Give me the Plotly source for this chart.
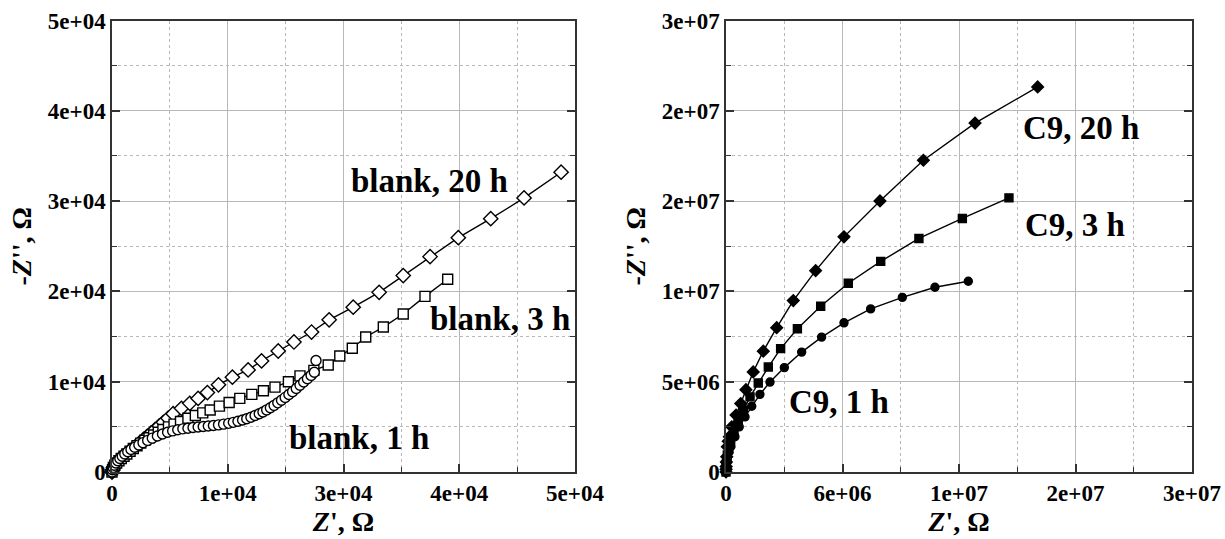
import plotly.graph_objects as go

# ---------------- data: left panel (blank) ----------------
blank20_x = [0, 60, 150, 300, 500, 750, 1000, 1300, 1600, 1900, 2250, 2600, 3000, 3400, 3800, 4200,
             4650, 5100, 5550, 6050, 6600, 7500, 8400, 9300, 10300, 11500, 13000, 14700, 16150, 17950,
             19650, 21550, 23450, 26050, 28850, 31450, 34350, 37400, 40900, 44500, 48500]
blank20_y = [0, 250, 500, 750, 1000, 1250, 1500, 1750, 2000, 2300, 2600, 2900, 3250, 3600, 3950, 4300,
             4700, 5100, 5500, 5950, 6450, 7050, 7600, 8150, 8800, 9650, 10500, 11300, 12300, 13400,
             14400, 15500, 16850, 18250, 19900, 21750, 23850, 25950, 28050, 30350, 33200]

blank3_x = [0, 60, 150, 300, 500, 750, 1000, 1300, 1600, 1950, 2300, 2700, 3100, 3550, 4000, 4500,
            5000, 5500, 6100, 6700, 7400, 8200, 9000, 9800, 10600, 11600, 12650, 13800, 15100, 16350,
            17600, 19050, 20300, 21800, 23350, 24600, 25950, 27400, 29300, 31450, 33800, 36250]
blank3_y = [0, 250, 500, 750, 1000, 1250, 1500, 1750, 2000, 2300, 2600, 2900, 3200, 3500, 3800, 4100,
            4400, 4700, 5000, 5300, 5600, 5950, 6250, 6550, 6870, 7300, 7700, 8150, 8600, 9000,
            9400, 10000, 10650, 11250, 11850, 12850, 13700, 14950, 16050, 17500, 19450, 21350]

blank1_x = [0, 50, 130, 250, 420, 620, 850, 1100, 1380, 1700, 2050, 2450, 2900, 3350, 3850, 4350,
            4900, 5450, 6000, 6550, 7100, 7650, 8200, 8750, 9300, 9850, 10400, 10950, 11500, 12050,
            12600, 13100, 13600, 14100, 14550, 15000, 15450, 15900, 16300, 16700, 17100, 17500, 17900,
            18300, 18700, 19100, 19500, 19900, 20300, 20700, 21100, 21500, 21850]
blank1_y = [0, 250, 500, 750, 1000, 1250, 1500, 1750, 2000, 2250, 2500, 2750, 3000, 3250, 3500, 3750,
            3980, 4200, 4400, 4550, 4680, 4780, 4850, 4920, 4980, 5040, 5090, 5150, 5220, 5300,
            5390, 5500, 5620, 5760, 5900, 6060, 6250, 6450, 6650, 6880, 7120, 7380, 7660,
            7950, 8260, 8580, 8900, 9250, 9600, 9960, 10320, 10700, 11050]
blank1_extra_x = [22030]
blank1_extra_y = [12340]

# ---------------- data: right panel (C9) ----------------
c9_20_x = [0, 0.005e6, 0.01e6, 0.02e6, 0.04e6, 0.07e6, 0.12e6, 0.18e6, 0.31e6, 0.54e6, 0.79e6, 1.07e6,
           1.46e6, 2.0e6, 2.72e6, 3.61e6, 4.81e6, 6.33e6, 8.26e6, 10.59e6, 13.36e6, 16.72e6]
c9_20_y = [0, 0.15e6, 0.3e6, 0.55e6, 0.85e6, 1.4e6, 1.7e6, 1.95e6, 2.5e6, 3.15e6, 3.79e6, 4.56e6,
           5.54e6, 6.69e6, 7.99e6, 9.49e6, 11.15e6, 13.02e6, 15.01e6, 17.26e6, 19.32e6, 21.32e6]

c9_3_x = [0, 0.005e6, 0.01e6, 0.02e6, 0.04e6, 0.07e6, 0.15e6, 0.25e6, 0.43e6, 0.66e6, 0.93e6, 1.29e6,
          1.73e6, 2.27e6, 2.93e6, 3.83e6, 5.08e6, 6.56e6, 8.30e6, 10.35e6, 12.68e6, 15.18e6]
c9_3_y = [0, 0.12e6, 0.25e6, 0.45e6, 0.7e6, 0.94e6, 1.25e6, 1.58e6, 2.13e6, 2.78e6, 3.42e6, 4.16e6,
          4.93e6, 5.81e6, 6.83e6, 7.93e6, 9.18e6, 10.45e6, 11.66e6, 12.93e6, 14.04e6, 15.18e6]

c9_1_x = [0, 0.005e6, 0.01e6, 0.02e6, 0.04e6, 0.07e6, 0.15e6, 0.25e6, 0.48e6, 0.71e6, 1.02e6, 1.38e6,
          1.82e6, 2.36e6, 3.13e6, 4.06e6, 5.13e6, 6.33e6, 7.76e6, 9.46e6, 11.21e6, 13.0e6]
c9_1_y = [0, 0.1e6, 0.2e6, 0.4e6, 0.6e6, 0.84e6, 1.1e6, 1.4e6, 1.95e6, 2.5e6, 3.05e6, 3.64e6,
          4.30e6, 4.98e6, 5.78e6, 6.64e6, 7.47e6, 8.26e6, 9.03e6, 9.67e6, 10.23e6, 10.56e6]

# tick labels (as printed on the original chart)
left_x_tickvals = [0, 12500, 25000, 37500, 50000]
left_x_ticktext = ["0", "1e+04", "3e+04", "4e+04", "5e+04"]
left_y_tickvals = [0, 10000, 20000, 30000, 40000, 50000]
left_y_ticktext = ["0", "1e+04", "2e+04", "3e+04", "4e+04", "5e+04"]
right_x_tickvals = [0, 6.25e6, 12.5e6, 18.75e6, 25e6]
right_x_ticktext = ["0", "6e+06", "1e+07", "2e+07", "3e+07"]
right_y_tickvals = [0, 5e6, 10e6, 15e6, 20e6, 25e6]
right_y_ticktext = ["0", "5e+06", "1e+07", "2e+07", "2e+07", "3e+07"]

left_labels = ["blank, 20 h", "blank, 3 h", "blank, 1 h"]
left_label_x = [34236, 41904, 26676]
left_label_y = [32260, 16962, 3769]
right_labels = ["C9, 20 h", "C9, 3 h", "C9, 1 h"]
right_label_x = [19.04e6, 18.72e6, 6.06e6]
right_label_y = [19.04e6, 13.69e6, 3.86e6]

# ---------------- figure ----------------
FONT = "Liberation Serif"
W, H = 1225, 539
fig = go.Figure()

line_style = dict(color="black", width=1.4)

def add(x, y, symbol, xa, ya, size=9, mode="lines+markers", open_=True):
    fig.add_trace(go.Scatter(
        x=x, y=y, mode=mode, xaxis=xa, yaxis=ya, cliponaxis=False,
        line=line_style,
        marker=dict(symbol=symbol, size=size, color="black" if not open_ else "white",
                    line=dict(color="black", width=1.4)),
        showlegend=False, hoverinfo="skip"))

add(blank20_x, blank20_y, "diamond", "x", "y", size=11)
add(blank3_x, blank3_y, "square", "x", "y", size=10)
add(blank1_x, blank1_y, "circle", "x", "y", size=10)
add(blank1_extra_x, blank1_extra_y, "circle", "x", "y", size=10, mode="markers")

add(c9_20_x, c9_20_y, "diamond", "x2", "y2", size=9, open_=False)
add(c9_3_x, c9_3_y, "square", "x2", "y2", size=8, open_=False)
add(c9_1_x, c9_1_y, "circle", "x2", "y2", size=8, open_=False)

tickfont = dict(family=FONT, size=23, color="black", weight="bold")
titlefont = dict(family=FONT, size=28, color="black", weight="bold")
GRID = "#b8b8b8"
FRAME = "#333333"

def xax(domain, rng, tv, tt, minor_dt, anchor):
    return dict(domain=domain, range=rng, anchor=anchor, tickmode="array", tickvals=tv, ticktext=tt,
                ticks="inside", ticklen=8, tickwidth=1.5, tickcolor=FRAME, automargin=False,
                showline=True, linecolor=FRAME, linewidth=1.5, mirror=True,
                showgrid=True, gridcolor=GRID, gridwidth=1, zeroline=False,
                minor=dict(dtick=minor_dt, tick0=0, showgrid=True, gridcolor=GRID, griddash="dot",
                           gridwidth=1, ticks="inside", ticklen=5, tickcolor=FRAME, tickwidth=1.2),
                tickfont=tickfont, fixedrange=True,
                title=dict(text="<i>Z</i>', Ω", font=titlefont, standoff=4))

def yax(domain, rng, tv, tt, minor_dt, anchor):
    return dict(domain=domain, range=rng, anchor=anchor, tickmode="array", tickvals=tv, ticktext=tt,
                ticks="inside", ticklen=8, tickwidth=1.5, tickcolor=FRAME, automargin=False,
                showline=True, linecolor=FRAME, linewidth=1.5, mirror="ticks",
                showgrid=True, gridcolor=GRID, gridwidth=1, zeroline=False,
                minor=dict(dtick=minor_dt, tick0=0, showgrid=True, gridcolor=GRID, griddash="dot",
                           gridwidth=1, ticks="inside", ticklen=5, tickcolor=FRAME, tickwidth=1.2),
                tickfont=tickfont, fixedrange=True,
                title=dict(text="-<i>Z</i>'', Ω", font=titlefont, standoff=8))

def topax(overlay, anchor, rng, dt, minor_dt):
    return dict(overlaying=overlay, anchor=anchor, side="top", range=rng, tickmode="linear", tick0=0,
                dtick=dt, ticks="inside", ticklen=8, tickwidth=1.5, tickcolor=FRAME, automargin=False,
                showticklabels=False, showgrid=False, zeroline=False, showline=False,
                minor=dict(dtick=minor_dt, tick0=0, ticks="inside", ticklen=5, tickcolor=FRAME,
                           tickwidth=1.2, showgrid=False), fixedrange=True)

ydom = [(H - 472) / H, (H - 20.5) / H]
fig.update_layout(
    width=W, height=H, margin=dict(l=0, r=0, t=0, b=0, autoexpand=False),
    paper_bgcolor="white", plot_bgcolor="white",
    xaxis=xax([112 / W, 575 / W], [0, 50000], left_x_tickvals, left_x_ticktext, 6250, "y"),
    yaxis=yax(ydom, [0, 50000], left_y_tickvals, left_y_ticktext, 5000, "x"),
    xaxis2=xax([726 / W, 1192 / W], [0, 25e6], right_x_tickvals, right_x_ticktext, 3.125e6, "y2"),
    yaxis2=yax(ydom, [0, 25e6], right_y_tickvals, right_y_ticktext, 2.5e6, "x2"),
    xaxis3=topax("x", "y", [0, 50000], 10000, 5000),
    xaxis4=topax("x2", "y2", [0, 25e6], 5e6, 2.5e6),
)

annfont = dict(family=FONT, size=33, color="black", weight="bold")
for t, x, y in zip(left_labels, left_label_x, left_label_y):
    fig.add_annotation(text=t, x=x, y=y, xref="x", yref="y", showarrow=False, font=annfont)
for t, x, y in zip(right_labels, right_label_x, right_label_y):
    fig.add_annotation(text=t, x=x, y=y, xref="x2", yref="y2", showarrow=False, font=annfont)

fig.write_html("out.html")
